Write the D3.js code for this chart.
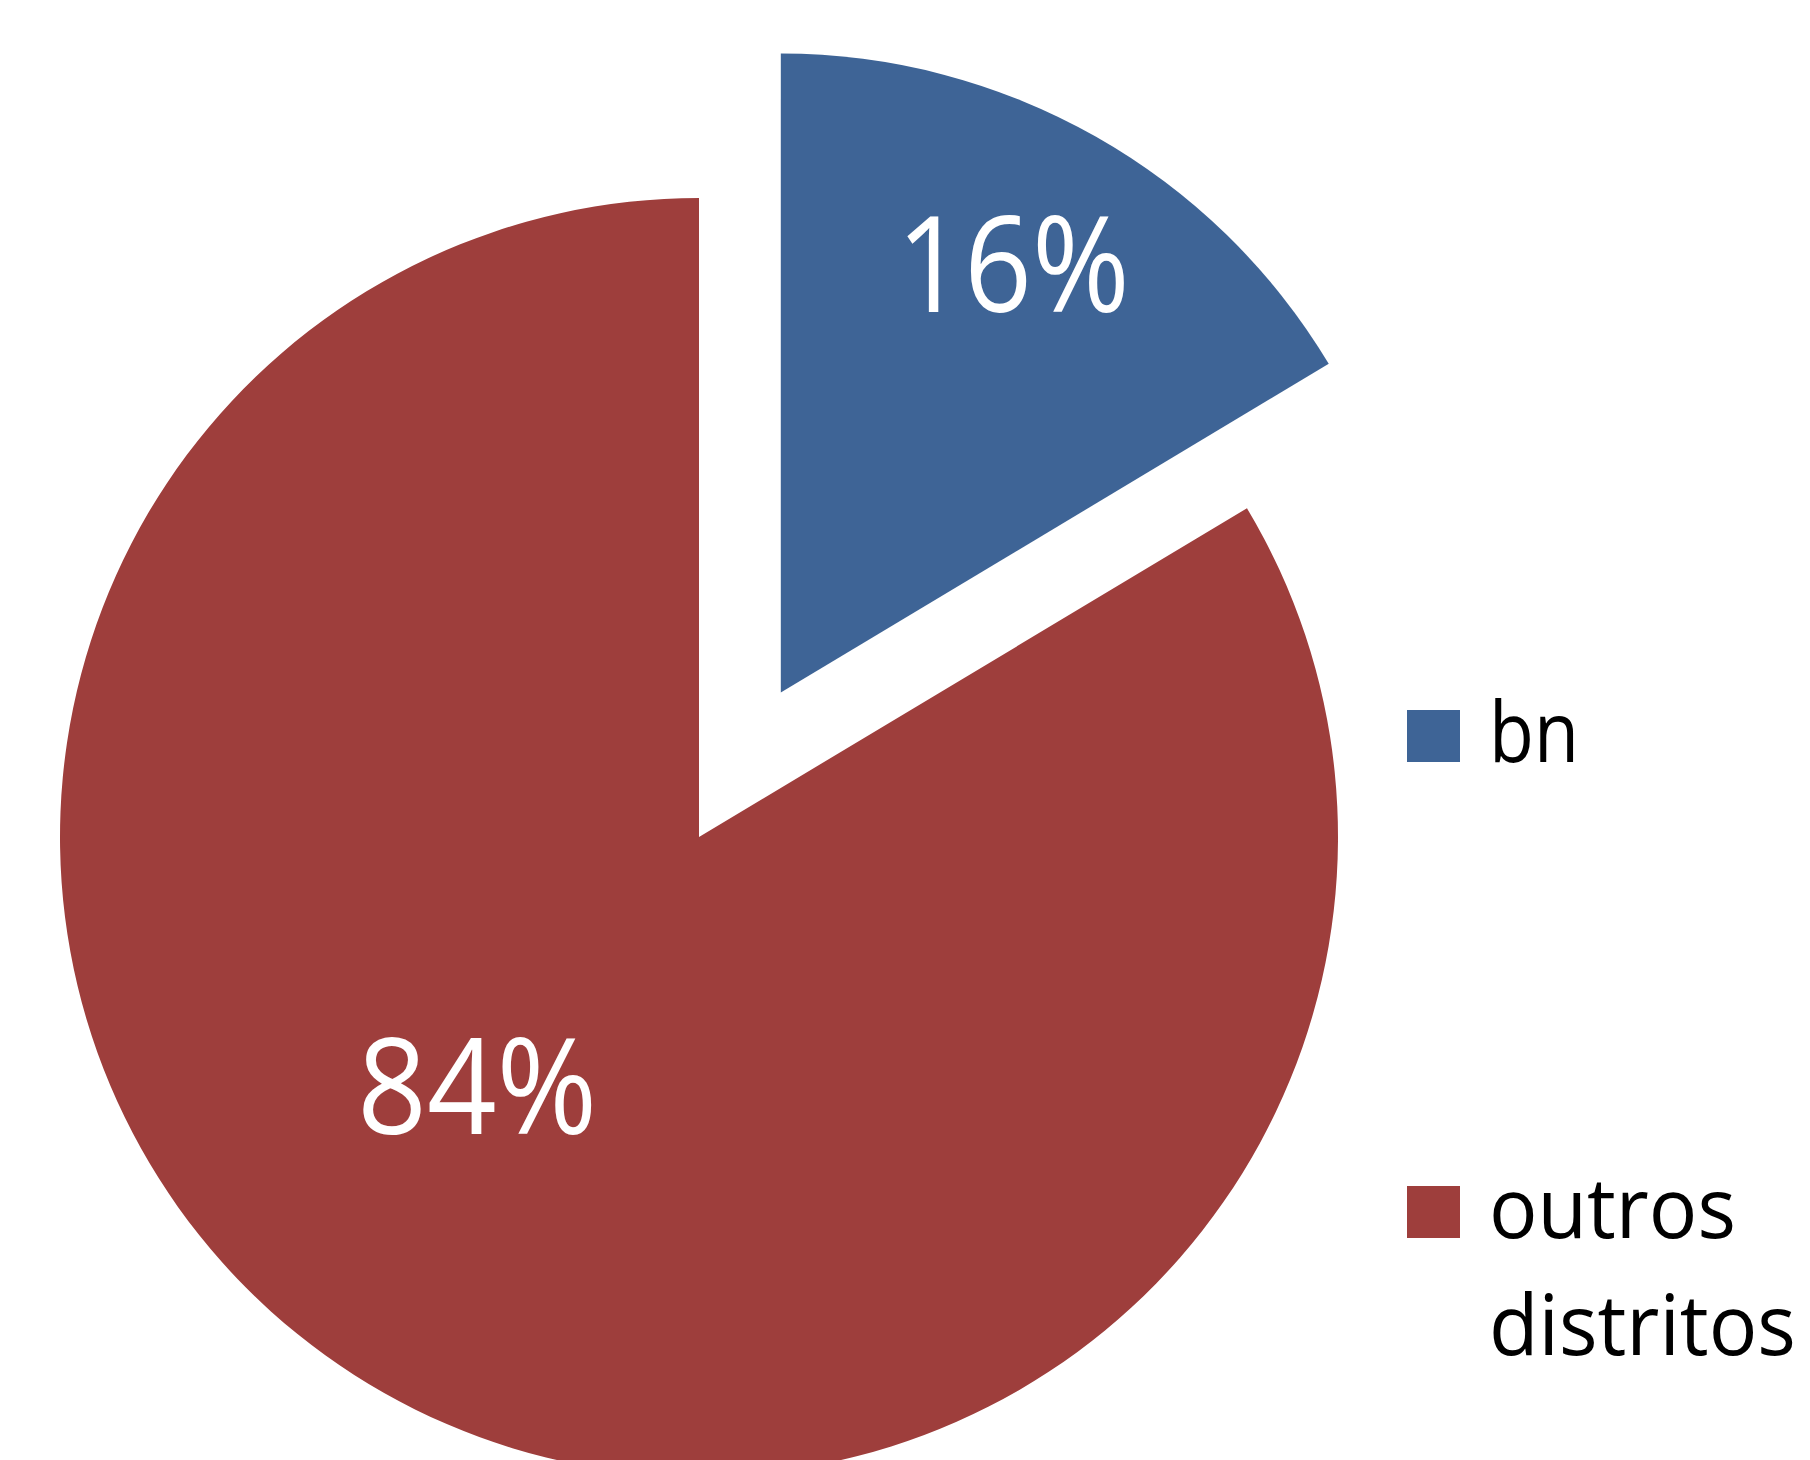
<!DOCTYPE html>
<html>
<head>
<meta charset="utf-8">
<script src="https://cdn.jsdelivr.net/npm/d3@7"></script>
<style>
  body { margin: 0; background: #fff; }
  svg { display: block; }
</style>
</head>
<body>
<svg id="chart" width="1810" height="1460"></svg>
<script>
// data
let categories = ["bn", "outros distritos"];
let values = [16.4, 83.6];
let pct_labels = ["16%", "84%"];
let legend_lines = [["bn"], ["outros", "distritos"]];
let colors = ["#3e6496", "#9e3e3c"];

let svg = d3.select("#chart");
let cx = 699, cy = 837;
let radius = 639;
let explode = [166, 0];

// % label placement: angle (deg from top), distance from slice centre, target width
let label_pos = [{angle: 28.5, dist: 487, width: 233}, {angle: 221.6, dist: 334, width: 240}];

// shrink / stretch a text horizontally so it spans `w` px from its anchor
function fit_width(sel, w, anchor_x){
  sel.each(function(){
    let natural = this.getComputedTextLength();
    let k = w / natural;
    d3.select(this).attr('transform', 'translate(' + anchor_x + ',0) scale(' + k + ',1) translate(' + (-anchor_x) + ',0)');
  });
}

let pie = d3.pie().sort(null).value(d => d)(values);
let arc = d3.arc().innerRadius(0).outerRadius(radius);

let root = svg.append("g").attr("class", "root_container")
  .attr("transform", "translate(" + cx + "," + cy + ")");

let slices = root.selectAll(".slice").data(pie).enter().append("g")
  .attr("class", "slice")
  .attr("transform", (d, i) => {
    let mid = (d.startAngle + d.endAngle) / 2;
    let off = explode[i];
    return "translate(" + (Math.sin(mid) * off) + "," + (-Math.cos(mid) * off) + ")";
  });

slices.append("path")
  .attr("d", arc)
  .attr("fill", (d, i) => colors[i]);

slices.each(function(d, i){
  let a = label_pos[i].angle * Math.PI / 180;
  let lx = Math.sin(a) * label_pos[i].dist;
  let ly = -Math.cos(a) * label_pos[i].dist + 47;
  let t = d3.select(this).append("text")
    .attr("x", lx)
    .attr("y", ly)
    .attr("text-anchor", "middle")
    .attr("font-family", "'Open Sans', sans-serif")
    .attr("font-size", 133)
    .attr("fill", "#fff")
    .text(pct_labels[i]);
  fit_width(t, label_pos[i].width, lx);
});

// legend
let legend_y = [762, 1238];
let line_h = 117;
let line_widths = [[90], [247, 307]];

let legend = svg.append("g").attr("class", "legend")
  .selectAll(".item").data(categories).enter().append("g")
  .attr("class", "item")
  .attr("transform", (d, i) => "translate(1407," + legend_y[i] + ")");

legend.append("rect")
  .attr("x", 0).attr("y", -52)
  .attr("width", 53).attr("height", 52)
  .attr("fill", (d, i) => colors[i]);

legend.each(function(d, i){
  let g = d3.select(this);
  legend_lines[i].forEach((ln, j) => {
    let t = g.append("text")
      .attr("x", 82)
      .attr("y", j * line_h)
      .attr("font-family", "'Open Sans', sans-serif")
      .attr("font-size", 84)
      .attr("fill", "#000")
      .text(ln);
    fit_width(t, line_widths[i][j], 82);
  });
});
</script>
</body>
</html>
